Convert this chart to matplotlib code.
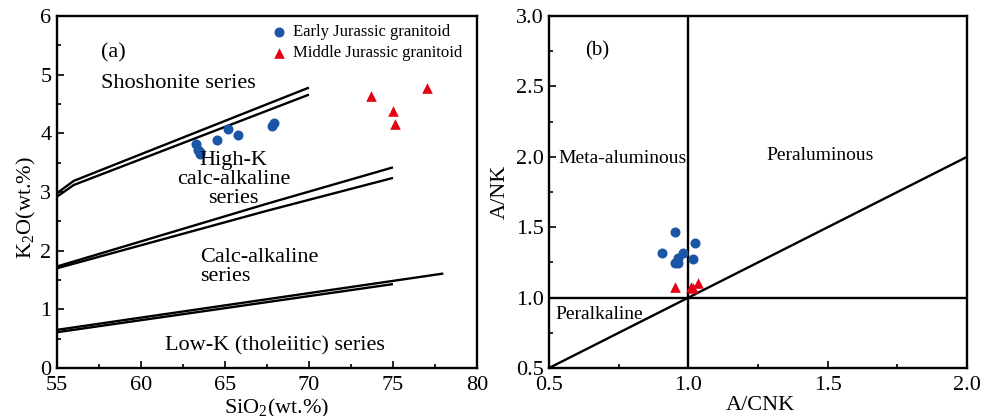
import matplotlib
matplotlib.use("Agg")
import matplotlib.pyplot as plt
from matplotlib.ticker import MultipleLocator

plt.rcParams['font.family'] = ['Liberation Serif', 'DejaVu Serif']
plt.rcParams['mathtext.fontset'] = 'custom'
plt.rcParams['mathtext.rm'] = 'Liberation Serif'

BLUE = '#1b55a6'
RED = '#e60012'

# (a) SiO2 - K2O
early_sio2 = [63.3, 63.4, 63.5, 63.5, 64.5, 65.2, 65.8, 67.8, 67.9]
early_k2o = [3.82, 3.72, 3.65, 3.68, 3.88, 4.08, 3.98, 4.12, 4.17]
middle_sio2 = [73.7, 75.0, 75.1, 77.0]
middle_k2o = [4.64, 4.38, 4.16, 4.78]

# series boundaries, each drawn as a pair of lines
shosh_hi_x = [55, 56, 70]
shosh_hi_y = [2.98, 3.19, 4.78]
shosh_lo_x = [55, 56, 70]
shosh_lo_y = [2.92, 3.12, 4.66]
highk_hi_x = [55, 67.5, 75]
highk_hi_y = [1.73, 2.80, 3.42]
highk_lo_x = [55, 67.5, 75]
highk_lo_y = [1.70, 2.68, 3.24]
lowk_hi_x = [55, 78]
lowk_hi_y = [0.65, 1.61]
lowk_lo_x = [55, 75]
lowk_lo_y = [0.61, 1.43]

# (b) A/CNK - A/NK
early_acnk = [0.952, 0.907, 0.979, 1.024, 1.015, 0.961, 0.952, 0.964, 0.958]
early_ank = [1.465, 1.316, 1.316, 1.389, 1.271, 1.280, 1.245, 1.245, 1.255]
middle_acnk = [0.953, 1.010, 1.018, 1.036]
middle_ank = [1.075, 1.072, 1.065, 1.105]

fig = plt.figure(figsize=(9.84, 4.16), dpi=100)
ax1 = fig.add_axes([0.0579, 0.1154, 0.4268, 0.8461])
ax2 = fig.add_axes([0.558, 0.1154, 0.4248, 0.8461])

lw = 1.7
for xs, ys in [(shosh_hi_x, shosh_hi_y), (shosh_lo_x, shosh_lo_y),
               (highk_hi_x, highk_hi_y), (highk_lo_x, highk_lo_y),
               (lowk_hi_x, lowk_hi_y), (lowk_lo_x, lowk_lo_y)]:
    ax1.plot(xs, ys, color='black', lw=lw, solid_capstyle='butt')

ax1.scatter(early_sio2, early_k2o, s=52, color=BLUE, marker='o', lw=0,
            label='Early Jurassic granitoid', zorder=3)
ax1.scatter(middle_sio2, middle_k2o, s=58, color=RED, marker='^', lw=0,
            label='Middle Jurassic granitoid', zorder=3)

fs = 16
fs_b = 14
ax1.text(57.6, 5.38, '(a)', fontsize=fs, va='center')
ax1.text(57.6, 4.85, 'Shoshonite series', fontsize=fs, va='center')
ax1.text(65.5, 3.21, 'High-K\ncalc-alkaline\nseries', fontsize=fs,
         ha='center', va='center', linespacing=1.0)
ax1.text(63.5, 1.73, 'Calc-alkaline\nseries', fontsize=fs,
         ha='left', va='center', linespacing=1.0)
ax1.text(68.0, 0.37, 'Low-K (tholeiitic) series', fontsize=fs,
         ha='center', va='center')

ax1.legend(loc='upper right', bbox_to_anchor=(0.985, 1.0), frameon=False,
           fontsize=12, handletextpad=0.1, borderaxespad=0.1,
           labelspacing=0.3, handlelength=1.5, scatterpoints=1)

ax1.set_xlim(55, 80)
ax1.set_ylim(0, 6)
ax1.xaxis.set_major_locator(MultipleLocator(5))
ax1.xaxis.set_minor_locator(MultipleLocator(2.5))
ax1.yaxis.set_major_locator(MultipleLocator(1))
ax1.yaxis.set_minor_locator(MultipleLocator(0.5))
ax1.set_xlabel('SiO$_2$(wt.%)', fontsize=fs)
ax1.set_ylabel('K$_2$O(wt.%)', fontsize=fs)
ax1.xaxis.set_label_coords(0.524, -0.083)
ax1.yaxis.set_label_coords(-0.045, 0.457)

# (b) boundaries
ax2.axvline(1.0, color='black', lw=lw)
ax2.axhline(1.0, color='black', lw=lw)
ax2.plot([0.5, 2.0], [0.5, 2.0], color='black', lw=lw)

ax2.scatter(early_acnk, early_ank, s=52, color=BLUE, marker='o', lw=0, zorder=3)
ax2.scatter(middle_acnk, middle_ank, s=58, color=RED, marker='^', lw=0, zorder=3)

ax2.text(0.628, 2.754, '(b)', fontsize=fs_b + 1, va='center')
ax2.text(0.532, 1.99, 'Meta-aluminous', fontsize=fs_b, va='center')
ax2.text(1.279, 2.01, 'Peraluminous', fontsize=fs_b, va='center')
ax2.text(0.524, 0.878, 'Peralkaline', fontsize=fs_b, va='center')

ax2.set_xlim(0.5, 2.0)
ax2.set_ylim(0.5, 3.0)
ax2.xaxis.set_major_locator(MultipleLocator(0.5))
ax2.xaxis.set_minor_locator(MultipleLocator(0.25))
ax2.yaxis.set_major_locator(MultipleLocator(0.5))
ax2.yaxis.set_minor_locator(MultipleLocator(0.25))
ax2.xaxis.set_major_formatter(plt.FormatStrFormatter('%.1f'))
ax2.yaxis.set_major_formatter(plt.FormatStrFormatter('%.1f'))
ax2.set_xlabel('A/CNK', fontsize=fs)
ax2.set_ylabel('A/NK', fontsize=fs)
ax2.xaxis.set_label_coords(0.505, -0.08)
ax2.yaxis.set_label_coords(-0.094, 0.5)

for ax in (ax1, ax2):
    for sp in ax.spines.values():
        sp.set_linewidth(1.7)
    ax.tick_params(which='both', direction='in', top=False, right=False,
                   labelsize=fs, width=1.2)
    ax.tick_params(which='major', length=5)
    ax.tick_params(which='minor', length=3)
    ax.tick_params(axis='x', which='major', pad=6)
    ax.tick_params(axis='y', which='major', pad=4)

fig.savefig('out.png', dpi=100)
